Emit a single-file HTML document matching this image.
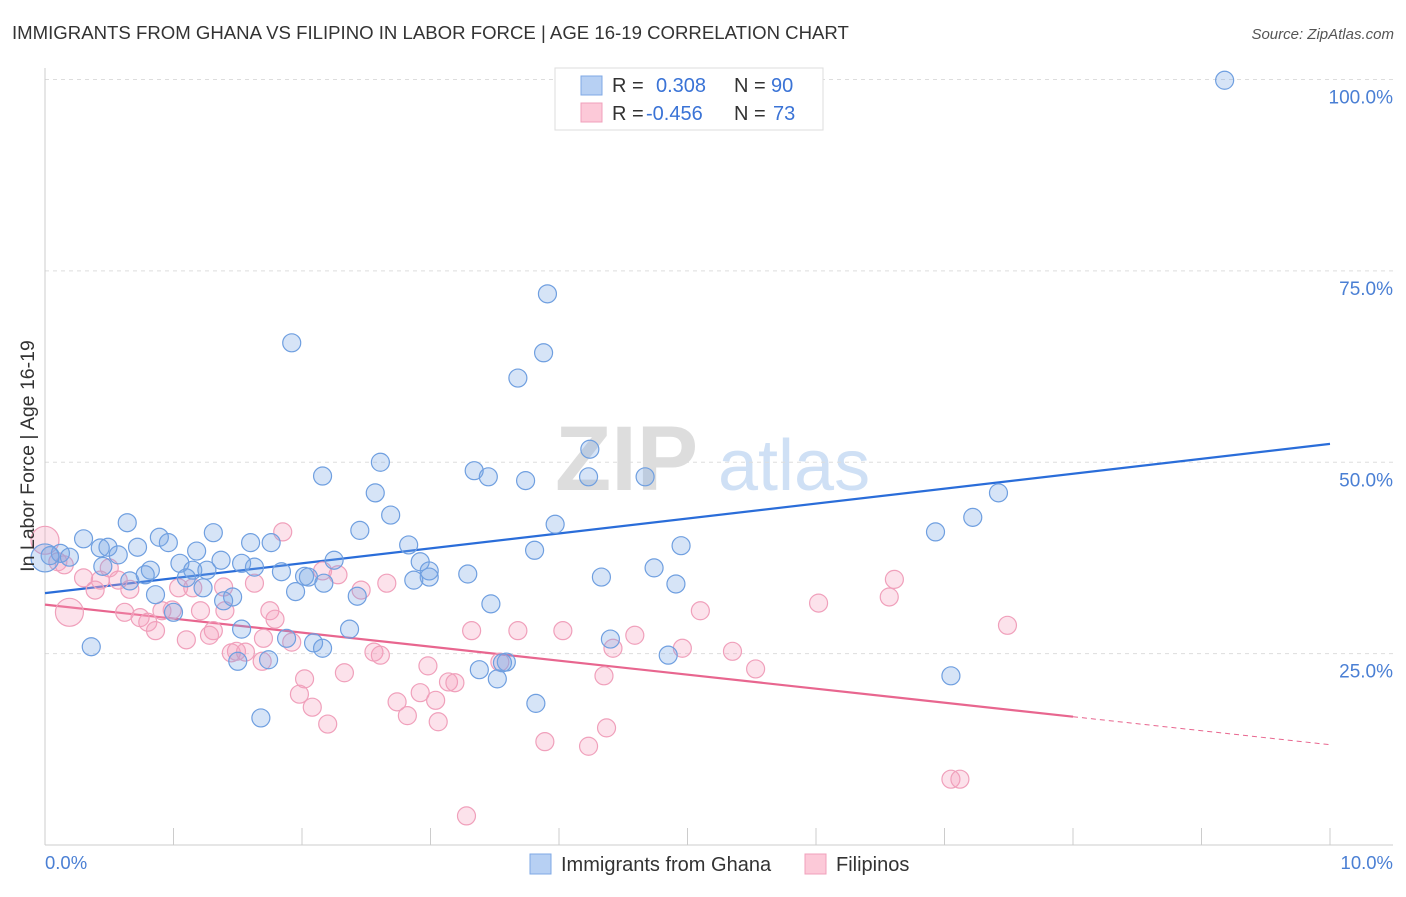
<!DOCTYPE html>
<html><head><meta charset="utf-8"><style>
body{margin:0;background:#fff;font-family:"Liberation Sans",sans-serif}
svg text{font-family:"Liberation Sans",sans-serif}
</style></head><body>
<svg id="chart" width="1406" height="892" xmlns="http://www.w3.org/2000/svg">
<text x="12" y="39" font-size="18.6" fill="#333">IMMIGRANTS FROM GHANA VS FILIPINO IN LABOR FORCE | AGE 16-19 CORRELATION CHART</text>
<text x="1394" y="39" font-size="15" fill="#555" text-anchor="end" font-style="italic">Source: ZipAtlas.com</text>
<g><text x="555" y="490" font-size="92" fill="#ddd" font-family="Liberation Serif" font-weight="bold">ZIP</text><text x="718" y="490" font-size="72" fill="#cfe0f5">atlas</text></g>
<g id="grid"></g><g id="axes"></g><g id="trend"></g><g id="pts"></g>
<text transform="translate(34,456) rotate(-90)" font-size="19.5" fill="#333" text-anchor="middle">In Labor Force | Age 16-19</text>
<text x="45" y="869" font-size="18.5" fill="#4a7fd4">0.0%</text>
<text x="1393" y="869" font-size="18.5" fill="#4a7fd4" text-anchor="end">10.0%</text>
<g>
<rect x="555" y="68" width="268" height="62" fill="#fff" stroke="#ddd"/>
<rect x="581" y="76" width="21" height="19" fill="#b7d0f3" stroke="#7fa8e6"/>
<rect x="581" y="103" width="21" height="19" fill="#fcc9d8" stroke="#f0a0bb"/>
<text x="612" y="92" font-size="20" fill="#333">R =</text><text x="656" y="92" font-size="20" fill="#3a73d6">0.308</text>
<text x="734" y="92" font-size="20" fill="#333">N =</text><text x="771" y="92" font-size="20" fill="#3a73d6">90</text>
<text x="612" y="120" font-size="20" fill="#333">R =</text><text x="646" y="120" font-size="20" fill="#3a73d6">-0.456</text>
<text x="734" y="120" font-size="20" fill="#333">N =</text><text x="773" y="120" font-size="20" fill="#3a73d6">73</text>
</g>
<g>
<rect x="530" y="854" width="21" height="20" fill="#b7d0f3" stroke="#7fa8e6"/>
<text x="561" y="871" font-size="20" fill="#333">Immigrants from Ghana</text>
<rect x="805" y="854" width="21" height="20" fill="#fcc9d8" stroke="#f0a0bb"/>
<text x="836" y="871" font-size="20" fill="#333">Filipinos</text>
</g>
</svg>
<script>
const yTicks=[25,50,75,100];
const yTickLabels=["25.0%","50.0%","75.0%","100.0%"];
const xTicks=[0,1,2,3,4,5,6,7,8,9,10];
const ghanaX=[9.18,3.91,1.92,3.88,3.68,4.24,2.61,2.16,3.34,3.45,3.74,4.23,4.67,2.57,7.42,2.69,7.22,3.97,2.45,6.93,0.64,0.89,1.31,0.30,0.96,1.60,1.76,2.83,4.95,3.81,0.43,0.49,0.72,1.18,0.57,0.12,0.04,0.19,0.0,2.25,1.37,2.92,0.45,0.82,1.05,1.63,1.84,2.02,2.05,2.99,2.99,1.15,1.26,3.29,4.33,4.74,4.91,1.10,0.66,0.78,2.87,1.95,2.43,1.46,0.86,1.39,1.23,3.47,1.00,1.53,2.37,1.88,2.09,2.16,4.40,0.36,1.50,1.74,4.85,3.59,3.56,3.38,3.52,7.05,3.82,1.68,1.53,2.17];
const ghanaY=[99.9,72.0,65.6,64.3,61.0,51.7,50.0,48.2,48.9,48.1,47.6,48.1,48.1,46.0,46.0,43.1,42.8,41.9,41.1,40.9,42.1,40.2,40.8,40.0,39.5,39.5,39.5,39.2,39.1,38.5,38.8,38.9,38.9,38.4,37.9,38.1,37.8,37.6,37.5,37.2,37.2,37.0,36.4,35.9,36.8,36.3,35.7,35.1,35.0,35.8,35.0,35.9,35.9,35.4,35.0,36.2,34.1,34.9,34.5,35.3,34.6,33.1,32.5,32.4,32.7,31.9,33.6,31.5,30.4,28.2,28.2,27.0,26.4,25.7,26.9,25.9,24.0,24.2,24.8,23.9,23.8,22.9,21.7,22.1,18.5,16.6,36.8,34.2];
const filX=[0.0,1.85,0.10,0.15,0.30,0.43,0.39,0.57,0.66,0.50,0.19,0.62,0.74,0.80,0.86,0.91,0.99,1.04,1.15,1.21,1.10,1.31,1.28,1.40,1.39,1.63,1.45,1.49,1.56,1.69,1.75,1.79,1.70,1.92,2.16,2.28,2.46,2.66,2.02,1.98,2.08,2.20,2.33,2.56,2.61,2.74,2.82,2.92,2.98,3.04,3.06,3.14,3.19,3.32,3.54,3.68,3.89,4.03,4.23,4.37,4.35,4.42,4.59,4.96,5.10,5.35,5.53,6.02,6.57,6.61,7.49,7.05,7.12,3.28];
const filY=[39.8,40.9,37.0,36.6,34.9,34.6,33.3,34.6,33.4,36.2,30.4,30.4,29.7,29.1,28.0,30.6,30.7,33.6,33.6,30.6,26.8,28.0,27.4,30.6,33.7,34.2,25.1,25.3,25.2,24.0,30.6,29.5,27.0,26.5,35.8,35.3,33.3,34.2,21.7,19.7,18.0,15.8,22.5,25.2,24.8,18.7,16.9,19.9,23.4,18.9,16.1,21.3,21.2,28.0,23.9,28.0,13.5,28.0,12.9,15.3,22.1,25.7,27.4,25.7,30.6,25.3,23.0,31.6,32.4,34.7,28.7,8.6,8.6,3.8];
const bigGhana=[38]; const bigFil=[0,10];
const ghanaTrend=[32.9,52.4];
const filTrend=[31.4,13.1];
const filSolidEnd=8;
const NS="http://www.w3.org/2000/svg";
const X=v=>45+v*128.5, Y=v=>845-v*7.655;
function mk(tag,attrs,parent){const e=document.createElementNS(NS,tag);for(const k in attrs)e.setAttribute(k,attrs[k]);document.getElementById(parent).appendChild(e);return e;}
yTicks.forEach((t,i)=>{
 const g=mk('line',{x1:45,x2:1393,y1:Y(t),y2:Y(t),stroke:'#ddd','stroke-dasharray':'4,4'},'grid');
 
 
 const l=mk('text',{x:1393,y:Y(t)+24,'font-size':19,fill:'#4a7fd4','text-anchor':'end'},'grid');
 l.textContent=yTickLabels[i];
 
 
});
const xa=mk('line',{x1:45,x2:1393,y1:845,y2:845,stroke:'#ccc'},'axes');


const ya=mk('line',{x1:45,x2:45,y1:68,y2:845,stroke:'#ccc'},'axes');


xTicks.forEach(t=>{const e=mk('line',{x1:X(t),x2:X(t),y1:828,y2:845,stroke:'#ccc'},'axes');
 
 });
function pts(xs,ys,big,fill,stroke,name){xs.forEach((x,i)=>{const r=big.includes(i)?14:9;
 const c=mk('circle',{cx:X(x),cy:Y(ys[i]),r:r,fill:fill,stroke:stroke,'stroke-width':1.2},'pts');
 
 });}
pts(filX,filY,bigFil,'rgba(246,160,190,0.3)','#f0a0bb','filipino-point');
pts(ghanaX,ghanaY,bigGhana,'rgba(120,165,230,0.3)','#6f9fe0','ghana-point');
const gl=mk('line',{x1:X(0),y1:Y(ghanaTrend[0]),x2:X(10),y2:Y(ghanaTrend[1]),stroke:'#2a6dd9','stroke-width':2.2},'trend');


const fAt=v=>filTrend[0]+(filTrend[1]-filTrend[0])*v/10;
const fl=mk('line',{x1:X(0),y1:Y(fAt(0)),x2:X(filSolidEnd),y2:Y(fAt(filSolidEnd)),stroke:'#e8668f','stroke-width':2.2},'trend');


const fd=mk('line',{x1:X(filSolidEnd),y1:Y(fAt(filSolidEnd)),x2:X(10),y2:Y(fAt(10)),stroke:'#e8668f','stroke-width':1,'stroke-dasharray':'5,4'},'trend');


</script>
</body></html>
